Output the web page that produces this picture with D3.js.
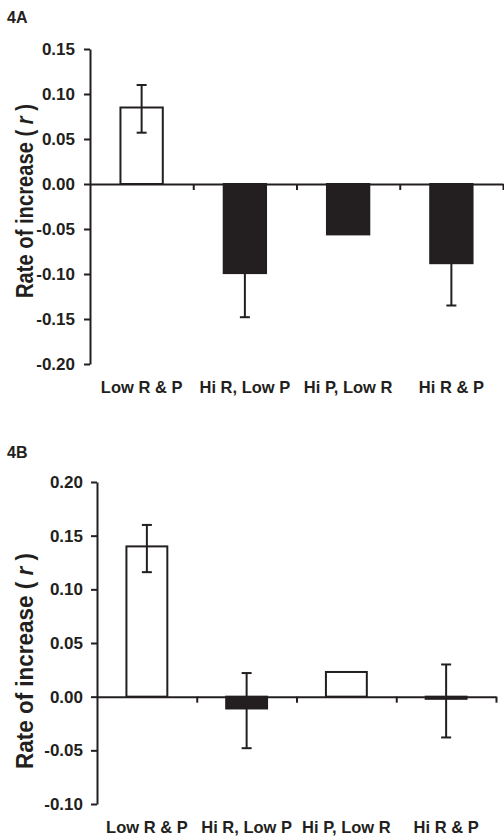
<!DOCTYPE html>
<html>
<head>
<meta charset="utf-8">
<script src="https://cdn.jsdelivr.net/npm/d3@7/dist/d3.min.js"></script>
<style>
  body { margin: 0; background: #fff; }
  text { font-family: "Liberation Sans", Arial, sans-serif; font-weight: bold; fill: #231f20; }
</style>
</head>
<body>
<script>
// Rate of increase (r) per treatment, two panels (4A, 4B)

var categories = ["Low R & P", "Hi R, Low P", "Hi P, Low R", "Hi R & P"];

// panel A: mean r and error bar ends (low, high)
var ratesA   = [0.085, -0.099, -0.056, -0.088];
var errLowA  = [0.057, -0.148, -0.056, -0.135];
var errHighA = [0.110, -0.050, -0.056, -0.041];
var ticksA   = [0.15, 0.10, 0.05, 0.00, -0.05, -0.10, -0.15, -0.20];

// panel B
var ratesB   = [0.140, -0.011, 0.023, -0.002];
var errLowB  = [0.116, -0.048, 0.023, -0.038];
var errHighB = [0.160, 0.022, 0.023, 0.030];
var ticksB   = [0.20, 0.15, 0.10, 0.05, 0.00, -0.05, -0.10];

var width = 504, height = 839;
var ink = "#231f20";

var svg = d3.select("body")
            .append("svg")
            .attr("width", width)
            .attr("height", height);

function panel(opts) {
  var g = svg.append("g");

  var y = d3.scaleLinear()
            .domain([d3.min(opts.ticks), d3.max(opts.ticks)])
            .range([opts.bottom, opts.top]);

  // band scale for the bars, linear one for the category boundaries
  var x = d3.scaleBand()
            .domain(categories)
            .range([opts.left, opts.right])
            .paddingInner(0.59)
            .paddingOuter(0.295);
  var xb = d3.scaleLinear()
             .domain([0, categories.length])
             .range([opts.left, opts.right]);

  var rows = categories.map(function(c, i) {
    return { cat: c, v: opts.values[i], lo: opts.lo[i], hi: opts.hi[i] };
  });

  // bars
  g.selectAll("rect.bar")
    .data(rows)
    .enter().append("rect")
      .attr("class", "bar")
      .attr("x", function(d) { return x(d.cat); })
      .attr("width", x.bandwidth())
      .attr("y", function(d) { return y(Math.max(0, d.v)); })
      .attr("height", function(d) { return Math.abs(y(d.v) - y(0)); })
      .attr("fill", function(d) { return d.v > 0 ? "#fff" : ink; })
      .attr("stroke", ink)
      .attr("stroke-width", 2);

  // error bars
  var eb = g.selectAll("g.err")
    .data(rows.filter(function(d) { return d.lo !== d.hi; }))
    .enter().append("g")
      .attr("class", "err")
      .attr("stroke", ink)
      .attr("stroke-width", 2);
  var cx = function(d) { return x(d.cat) + x.bandwidth() / 2; };
  eb.append("line")
      .attr("x1", cx).attr("x2", cx)
      .attr("y1", function(d) { return y(d.hi); })
      .attr("y2", function(d) { return y(d.lo); });
  eb.append("line")
      .attr("x1", function(d) { return cx(d) - 5; })
      .attr("x2", function(d) { return cx(d) + 5; })
      .attr("y1", function(d) { return y(d.hi); })
      .attr("y2", function(d) { return y(d.hi); });
  eb.append("line")
      .attr("x1", function(d) { return cx(d) - 5; })
      .attr("x2", function(d) { return cx(d) + 5; })
      .attr("y1", function(d) { return y(d.lo); })
      .attr("y2", function(d) { return y(d.lo); });

  // x axis at zero, ticks on category boundaries
  var xAxis = g.append("g")
    .attr("transform", "translate(0," + y(0) + ")")
    .call(d3.axisBottom(xb)
            .tickValues(d3.range(1, categories.length + 1))
            .tickFormat("")
            .tickSize(6)
            .tickSizeOuter(0));
  xAxis.selectAll("path, line").attr("stroke", ink).attr("stroke-width", 2);

  // y axis
  var yAxis = g.append("g")
    .attr("transform", "translate(" + opts.left + ",0)")
    .call(d3.axisLeft(y)
            .tickValues(opts.ticks)
            .tickSize(6)
            .tickSizeOuter(0)
            .tickPadding(opts.pad)
            .tickFormat(function(d) { return d.toFixed(2); }));
  yAxis.selectAll("path, line").attr("stroke", ink).attr("stroke-width", 2);
  yAxis.selectAll("text")
       .style("font-size", "17px")
       .style("font-family", "Liberation Sans, Arial, sans-serif")
       .style("font-weight", "bold")
       .attr("fill", ink);

  // category labels under the plot
  var cAxis = g.append("g")
    .attr("transform", "translate(0," + opts.bottom + ")")
    .call(d3.axisBottom(x).tickSize(0).tickPadding(17));
  cAxis.select(".domain").remove();
  cAxis.selectAll("text")
       .style("font-size", "16.5px")
       .style("font-family", "Liberation Sans, Arial, sans-serif")
       .style("font-weight", "bold")
       .attr("fill", ink);

  // panel tag
  g.append("text")
    .attr("x", 7)
    .attr("y", opts.tagY)
    .style("font-size", "16px")
    .text(opts.tag);

  // y label
  var lab = g.append("text")
    .attr("transform", "translate(33," + opts.labelY + ") rotate(-90)")
    .attr("text-anchor", "middle")
    .attr("textLength", opts.labelLen)
    .attr("lengthAdjust", "spacingAndGlyphs")
    .style("font-size", "23px");
  lab.append("tspan").text("Rate of increase ( ");
  lab.append("tspan").style("font-style", "italic").text("r");
  lab.append("tspan").text(" )");
}

panel({
  tag: "4A", tagY: 23,
  values: ratesA, lo: errLowA, hi: errHighA, ticks: ticksA,
  left: 90, right: 503, top: 49, bottom: 364,
  pad: 9, labelY: 201, labelLen: 194
});

panel({
  tag: "4B", tagY: 458,
  values: ratesB, lo: errLowB, hi: errHighB, ticks: ticksB,
  left: 97, right: 496, top: 482, bottom: 804,
  pad: 8, labelY: 661, labelLen: 216
});
</script>
</body>
</html>
